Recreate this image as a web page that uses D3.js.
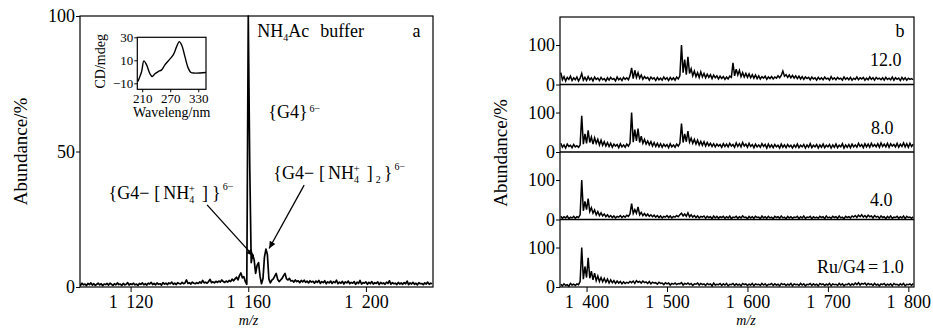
<!DOCTYPE html>
<html><head><meta charset="utf-8">
<script src="https://cdn.jsdelivr.net/npm/d3@7"></script>
<style>
body{margin:0;background:#fff;}
svg text{font-family:"Liberation Serif","Times New Roman",serif;fill:#000;}
</style></head><body>
<svg id="c" width="933" height="328"></svg>
<script>
// ---------------- DATA ----------------
// Panel a: mass spectrum in NH4Ac buffer, sampled every 0.5 m/z from 1102.5
const aMzStart = 1102.5, aMzStep = 0.5;
const aAbundance = [
 1.2,0.6,1.4,0.8,1.1,0.5,1.3,0.9,1.5,0.7,1.2,0.6,1.0,1.4,0.8,1.2,0.5,1.1,0.9,1.3,
 0.7,1.4,1.0,0.6,1.2,0.8,1.5,0.9,1.1,0.6,1.3,0.8,1.0,1.6,0.7,1.2,0.9,1.4,0.8,1.1,
 0.6,1.3,1.0,1.5,0.8,1.2,0.7,1.4,1.1,1.7,0.9,1.3,0.8,1.5,1.0,1.2,0.7,1.6,1.1,1.4,
 0.9,1.5,1.2,1.8,1.0,1.4,0.9,1.6,1.3,1.1,1.7,1.2,1.5,2.6,1.3,1.6,1.1,1.8,1.4,1.2,
 1.6,1.3,1.9,1.4,2.4,1.5,1.8,1.4,2.0,2.8,1.6,1.9,1.5,2.1,1.7,2.2,1.8,2.6,2.0,1.7,
 2.2,1.8,2.4,2.0,2.9,2.3,3.0,3.6,2.6,4.2,5.2,3.4,3.8,2.0,1.0,100,45,9,12,10,
 5,8,9,4,1.2,3,11,14,12,3,1.5,2.5,3,4,5,2.8,2.0,2.6,3.2,4.2,
 5,3,2.6,3.2,2.2,2.4,1.8,2.6,2.0,2.3,1.6,2.4,1.9,2.5,1.7,2.2,1.5,2.3,1.8,2.1,
 1.4,2.2,1.7,2.4,1.3,2.0,1.6,2.3,1.2,1.9,1.5,2.2,1.3,2.0,1.6,2.5,1.2,1.8,1.4,2.1,
 1.1,1.9,1.5,2.2,1.2,1.7,1.4,2.0,1.0,1.8,1.3,2.4,1.1,1.6,1.4,1.9,1.0,1.7,1.2,2.0,
 1.1,1.6,1.3,1.9,0.9,1.7,1.2,1.5,1.0,1.8,1.3,2.3,1.0,1.6,1.2,1.4,0.9,1.7,1.1,1.5,
 1.0,1.6,1.2,2.2,0.9,1.5,1.1,1.7,1.0,1.4,0.8,1.6,1.2,1.3,0.9,1.5,1.1,1.8,1.0,1.4,
 1.2
];
const aXTicks = [1120, 1160, 1200];
const aYTicks = [0, 50, 100];

// Inset: CD spectrum
const cdWavelength = [200.8,208.7,213.6,219.4,226.5,231.4,237.2,244.3,251.5,258.6,267.8,276.4,283.7,289.2,294.4,301.4,308.5,314.3,322.8,346.4];
const cdValue      = [-8.4, 0.2, 9.5, 6.0, -1.7, -4.1, -1.7, 0.2, 1.7, 6.0, 10.4, 14.7, 21.9, 26.2, 23.3, 13.2, 3.2, -0.6, -1.1, -0.6];
const cdXTicks = [210, 270, 330];
const cdYTicks = [-10, 10, 30];

// Panel b: spectra at several Ru/G4 ratios, sampled every 2 m/z from 1368
const bMzStart = 1368, bMzStep = 2;
const bLabels = ["12.0", "8.0", "4.0", "Ru/G4=1.0"];
const bRatio12 = [
 30,12,20,9,18,13,21,10,17,12,
 19,9,16,28,11,18,10,20,12,17,
 9,19,13,16,10,18,12,15,9,17,
 11,18,13,15,9,19,12,16,10,18,
 13,17,12,22,42,15,36,18,30,16,
 24,13,20,15,18,11,19,14,17,10,
 18,12,16,11,19,13,17,10,18,12,
 17,11,19,14,22,100,30,63,25,70,
 28,40,22,34,20,30,18,32,19,28,
 17,26,18,25,15,24,17,22,14,21,
 15,20,13,19,14,21,18,55,22,39,
 24,36,20,30,19,28,18,27,17,25,
 16,24,15,22,14,20,16,21,13,19,
 15,20,14,19,16,22,17,23,34,21,
 25,18,24,17,23,16,22,15,21,14,
 20,13,19,15,18,12,19,14,17,11,
 18,13,17,12,19,14,16,11,20,13,
 17,12,18,14,16,11,19,13,17,12,
 18,11,16,13,19,12,17,14,18,11,
 16,12,19,13,17,11,18,14,16,12,
 17,11,18,13,16,12,19,11,17,13,
 16,10,18,12,17,11,16,13,15,12
];
const bRatio8 = [
 22,12,18,10,20,14,17,11,19,13,
 16,12,18,92,20,46,22,55,24,38,
 20,36,22,32,18,30,17,26,15,24,
 14,22,12,20,15,19,11,21,13,18,
 12,20,15,22,100,25,57,28,59,24,
 40,22,32,20,28,18,26,15,24,14,
 22,13,21,12,20,14,19,11,21,13,
 18,12,20,15,22,72,24,46,26,53,
 25,35,22,32,20,30,18,27,17,26,
 15,24,16,22,14,21,13,20,15,19,
 12,21,14,20,13,22,15,19,12,23,
 14,21,13,24,15,20,12,22,14,19,
 11,20,13,18,12,21,14,19,10,20,
 12,18,11,19,13,17,10,20,12,18,
 11,19,13,17,10,18,12,20,11,17,
 13,19,10,18,12,21,11,17,13,19,
 10,18,12,20,11,17,13,19,10,18,
 12,20,11,17,13,21,10,18,12,19,
 11,20,13,18,12,22,14,19,11,21,
 13,20,12,22,14,19,13,21,12,23,
 14,20,13,22,12,21,15,19,13,22,
 12,20,14,23,13,21,12,22,14,20
];
const bRatio4 = [
 8,3,7,4,9,2,6,4,8,3,
 7,5,12,100,22,46,25,53,20,30,
 16,24,12,20,10,17,9,14,7,12,
 6,10,5,9,4,8,6,10,5,9,
 6,11,8,14,40,15,25,16,32,12,
 18,10,15,9,14,8,12,7,11,6,
 10,5,9,4,8,6,10,5,9,4,
 8,6,10,7,12,16,9,14,8,17,
 7,12,6,10,5,9,4,8,6,9,
 3,8,5,7,2,9,4,8,3,7,
 5,8,3,7,4,9,2,6,5,8,
 3,7,4,9,5,6,2,8,4,7,
 3,8,5,6,2,9,4,7,3,8,
 4,6,2,8,5,7,3,9,4,6,
 2,8,4,7,3,6,5,8,2,7,
 4,9,3,6,5,8,2,7,4,6,
 3,8,5,7,2,9,4,6,3,8,
 5,7,3,9,4,6,2,8,5,7,
 4,9,6,10,5,11,7,12,6,10,
 5,11,7,9,4,10,6,8,3,9,
 5,7,2,8,4,9,3,6,5,8,
 3,7,4,9,2,8,5,6,3,7
];
const bRatio1 = [
 7,3,8,4,6,2,9,5,7,4,
 8,6,14,100,20,52,24,74,22,40,
 18,35,16,28,14,24,13,22,12,20,
 10,18,11,16,9,15,10,14,8,13,
 9,12,10,14,11,15,9,16,12,14,
 10,15,11,13,9,14,8,12,10,11,
 7,12,9,10,6,11,8,10,5,9,
 7,10,6,9,8,11,5,9,7,10,
 6,9,4,8,7,10,5,9,6,8,
 4,9,6,8,3,10,5,7,6,9,
 4,8,5,9,3,7,6,9,4,8,
 5,7,3,9,6,8,4,7,5,9,
 3,8,6,7,4,9,5,8,3,7,
 6,9,4,8,5,7,3,9,6,8,
 4,7,5,9,3,8,6,7,4,9,
 5,8,3,7,6,9,4,8,5,7,
 3,9,6,8,4,7,5,9,3,8,
 6,7,4,9,5,8,3,7,6,9,
 4,8,5,10,6,11,5,9,7,10,
 5,9,6,8,4,9,5,7,3,8,
 6,9,4,7,5,8,3,9,6,7,
 4,8,5,9,3,7,6,8,4,9
];
const bXTicks = [1400, 1500, 1600, 1700, 1800];
const bYTicks = [0, 100];

// ---------------- DRAWING ----------------
const svg = d3.select("#c");
const defs = svg.append("defs");
defs.append("marker").attr("id","ah").attr("viewBox","0 0 10 10")
  .attr("refX",10).attr("refY",5).attr("markerWidth",10).attr("markerHeight",7)
  .attr("markerUnits","userSpaceOnUse").attr("orient","auto")
  .append("path").attr("d","M0,0.5L10,5L0,9.5Z").attr("fill","#000");

const fmtMz = d => { const s = String(d); return s[0] + " " + s.slice(1); };
function styleAxis(g, fs){
  g.select(".domain").remove();
  g.selectAll("line").attr("stroke","#000").attr("stroke-width",1);
  g.selectAll("text").attr("font-size",fs).attr("fill","#000")
   .style("font-family","'Liberation Serif',serif").style("word-spacing","4px");
}

// ---- Panel a ----
const A = {l:80, t:16, r:433, b:287};
const xA = d3.scaleLinear().domain([1102.8, 1222.8]).range([A.l, A.r]);
const yA = d3.scaleLinear().domain([0, 100]).range([A.b, A.t]);
defs.append("clipPath").attr("id","clipA").append("rect")
  .attr("x",A.l).attr("y",A.t-2).attr("width",A.r-A.l).attr("height",A.b-A.t+2);

const lineA = d3.line().x((d,i)=>xA(aMzStart + i*aMzStep)).y(d=>yA(d));
svg.append("path").datum(aAbundance).attr("clip-path","url(#clipA)")
  .attr("d",lineA).attr("fill","none").attr("stroke","#000").attr("stroke-width",1.7)
  .attr("stroke-linejoin","round");

svg.append("g").attr("transform",`translate(0,${A.b})`)
  .call(d3.axisBottom(xA).tickValues(aXTicks).tickSize(5).tickPadding(3).tickFormat(fmtMz))
  .call(g=>styleAxis(g,18));
svg.append("g").attr("transform",`translate(${A.l},0)`)
  .call(d3.axisLeft(yA).tickValues(aYTicks).tickSize(4).tickPadding(1))
  .call(g=>styleAxis(g,18));
svg.append("rect").attr("x",A.l).attr("y",A.t).attr("width",A.r-A.l).attr("height",A.b-A.t)
  .attr("fill","none").attr("stroke","#000").attr("stroke-width",1.2);

svg.append("text").attr("transform",`translate(27,${(A.t+A.b)/2}) rotate(-90)`)
  .attr("text-anchor","middle").attr("font-size",19).text("Abundance/%");
svg.append("text").attr("x",(A.l+A.r)/2 - 8).attr("y",325).attr("text-anchor","middle")
  .attr("font-size",14).attr("font-style","italic").text("m/z");

// Inset CD
const I = {l:137.3, t:37.3, r:206, b:89.3};
const xI = d3.scaleLinear().domain([199.5, 346.5]).range([I.l, I.r]);
const yI = d3.scaleLinear().domain([-15.2, 30]).range([I.b, I.t]);
svg.append("rect").attr("x",I.l).attr("y",I.t).attr("width",I.r-I.l).attr("height",I.b-I.t)
  .attr("fill","#fff").attr("stroke","none");
svg.append("path").datum(cdWavelength.map((w,i)=>[w, cdValue[i]]))
  .attr("d", d3.line().x(d=>xI(d[0])).y(d=>yI(d[1])).curve(d3.curveCatmullRom))
  .attr("fill","none").attr("stroke","#000").attr("stroke-width",1.4);
svg.append("g").attr("transform",`translate(0,${I.b})`)
  .call(d3.axisBottom(xI).tickValues(cdXTicks).tickSize(3).tickPadding(1))
  .call(g=>styleAxis(g,13));
svg.append("g").attr("transform",`translate(${I.l},0)`)
  .call(d3.axisLeft(yI).tickValues(cdYTicks).tickSize(3).tickPadding(1))
  .call(g=>styleAxis(g,13));
svg.append("rect").attr("x",I.l).attr("y",I.t).attr("width",I.r-I.l).attr("height",I.b-I.t)
  .attr("fill","none").attr("stroke","#000").attr("stroke-width",1.2);
svg.append("text").attr("x",(I.l+I.r)/2).attr("y",116.5).attr("text-anchor","middle")
  .attr("font-size",14).text("Waveleng/nm");
svg.append("text").attr("transform",`translate(105,${(I.t+I.b)/2-2}) rotate(-90)`)
  .attr("text-anchor","middle").attr("font-size",14).text("CD/mdeg");

// Rich labels with tspans
function richText(x, y, parts){
  const t = svg.append("text").attr("x",x).attr("y",y).attr("font-size",18);
  parts.forEach(p=>{
    const s = t.append("tspan").text(p.t).attr("font-size",p.fs||18);
    if(p.dx) s.attr("dx",p.dx);
    if(p.dy) s.attr("dy",p.dy);
  });
  return t;
}
richText(xA(1163.05), yA(92.1), [
  {t:"NH"},{t:"4",fs:10,dy:4},{t:"Ac",dy:-4},{t:"buffer",dx:11}
]);
svg.append("text").attr("x",xA(1217.2)).attr("y",yA(92.1)).attr("text-anchor","middle")
  .attr("font-size",18).text("a");
richText(xA(1166.8), yA(62.4), [
  {t:"{G4}"},{t:"6−",fs:10,dx:2,dy:-6}
]);
richText(xA(1112.5), yA(32.5), [
  {t:"{G4−"},{t:"[",dx:5},{t:"NH",dx:3},{t:"4",fs:10,dy:4},{t:"+",fs:11,dx:-5.5,dy:-11},
  {t:"]",dx:7,dy:7},{t:"}",dx:4},{t:"6−",fs:10,dx:2,dy:-9}
]);
richText(xA(1168.5), yA(39.9), [
  {t:"{G4−"},{t:"[",dx:5},{t:"NH",dx:3},{t:"4",fs:10,dy:4},{t:"+",fs:11,dx:-5.5,dy:-11},
  {t:"]",dx:7,dy:7},{t:"2",fs:10,dx:3,dy:4},{t:"}",dx:3,dy:-4},{t:"6−",fs:10,dx:2,dy:-9}
]);
// arrows
svg.append("line").attr("x1",xA(1146)).attr("y1",yA(30.3)).attr("x2",xA(1161.8)).attr("y2",yA(11.4))
  .attr("stroke","#000").attr("stroke-width",1.3).attr("marker-end","url(#ah)");
svg.append("line").attr("x1",xA(1179)).attr("y1",yA(37.6)).attr("x2",xA(1167.1)).attr("y2",yA(14.2))
  .attr("stroke","#000").attr("stroke-width",1.3).attr("marker-end","url(#ah)");

// ---- Panel b ----
const B = {l:560, t:17, r:914, b:287};
const subH = (B.b - B.t) / 4;
const xB = d3.scaleLinear().domain([1367, 1807]).range([B.l, B.r]);
const bSeries = [bRatio12, bRatio8, bRatio4, bRatio1];
const labelOffsets = [{x:870, dyUnits:47}, {x:871, dyUnits:46}, {x:870, dyUnits:34}, {x:817, dyUnits:36}];

bSeries.forEach((vals, k)=>{
  const top = B.t + k*subH, bot = top + subH;
  const yB = d3.scaleLinear().domain([0, 171]).range([bot, top]);
  svg.append("path").datum(vals)
    .attr("d", d3.line().x((d,i)=>xB(bMzStart + i*bMzStep)).y(d=>yB(d)))
    .attr("fill","none").attr("stroke","#000").attr("stroke-width",1.5).attr("stroke-linejoin","miter");
  svg.append("g").attr("transform",`translate(${B.l},0)`)
    .call(d3.axisLeft(yB).tickValues(bYTicks).tickSize(4).tickPadding(1))
    .call(g=>styleAxis(g,18));
  if(k>0) svg.append("line").attr("x1",B.l).attr("x2",B.r).attr("y1",top).attr("y2",top)
    .attr("stroke","#000").attr("stroke-width",1.4);
  const lo = labelOffsets[k];
  if(k===3){
    richText(lo.x, yB(lo.dyUnits), [{t:"Ru/G4"},{t:"=",dx:3},{t:"1.0",dx:3}]);
  } else {
    svg.append("text").attr("x",lo.x).attr("y",yB(lo.dyUnits)).attr("font-size",18).text(bLabels[k]);
  }
});
svg.append("g").attr("transform",`translate(0,${B.b})`)
  .call(d3.axisBottom(xB).tickValues(bXTicks).tickSize(5).tickPadding(3).tickFormat(fmtMz))
  .call(g=>styleAxis(g,18));
svg.append("rect").attr("x",B.l).attr("y",B.t).attr("width",B.r-B.l).attr("height",B.b-B.t)
  .attr("fill","none").attr("stroke","#000").attr("stroke-width",1.2);
svg.append("text").attr("x",900).attr("y",37.3).attr("text-anchor","middle").attr("font-size",18).text("b");
svg.append("text").attr("transform",`translate(507,153) rotate(-90)`)
  .attr("text-anchor","middle").attr("font-size",19).text("Abundance/%");
svg.append("text").attr("x",746).attr("y",325).attr("text-anchor","middle")
  .attr("font-size",14).attr("font-style","italic").text("m/z");
</script>
</body></html>
